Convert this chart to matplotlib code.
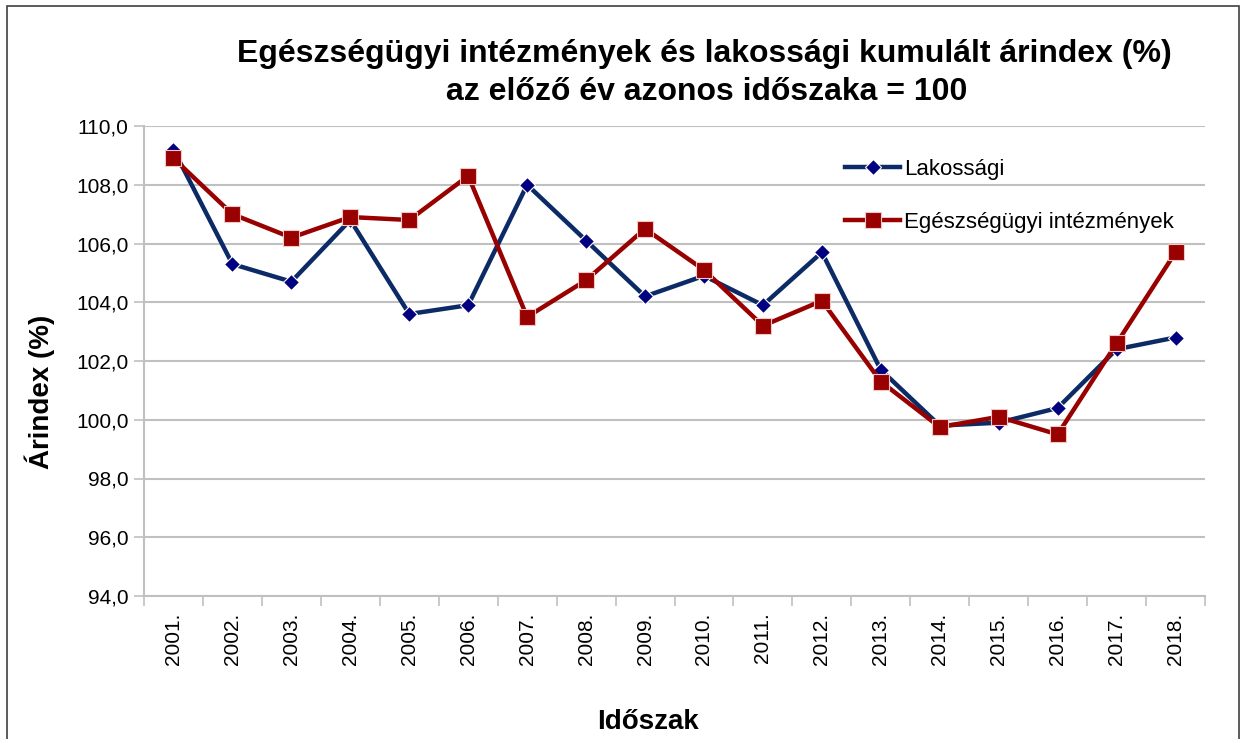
import numpy as np
import matplotlib
matplotlib.use("Agg")
import matplotlib.pyplot as plt
from matplotlib.patches import Rectangle
from matplotlib.ticker import FuncFormatter

plt.rcParams["font.family"] = ["Liberation Sans", "DejaVu Sans"]

# adatok (leolvasva az ábráról)
years = ["2001.", "2002.", "2003.", "2004.", "2005.", "2006.", "2007.", "2008.", "2009.",
         "2010.", "2011.", "2012.", "2013.", "2014.", "2015.", "2016.", "2017.", "2018."]
lakossagi = [109.2, 105.3, 104.7, 106.8, 103.6, 103.9, 108.0, 106.1, 104.2,
             104.9, 103.9, 105.7, 101.7, 99.8, 99.9, 100.4, 102.4, 102.8]
egeszsegugyi = [108.9, 107.0, 106.2, 106.9, 106.8, 108.3, 103.5, 104.75, 106.5,
                105.1, 103.2, 104.05, 101.3, 99.75, 100.1, 99.5, 102.6, 105.7]
yticks = [94, 96, 98, 100, 102, 104, 106, 108, 110]

W, H = 1245, 739
fig = plt.figure(figsize=(W / 100, H / 100), dpi=100)
ax = fig.add_axes([144 / W, 1 - 596 / H, (1205 - 144) / W, (596 - 126) / H])

x = np.arange(len(years))
ax.plot(x, lakossagi, color="#0b2a66", lw=3.2, marker="D", ms=8,
        mfc="#000080", mec="white", mew=0.8, label="Lakossági", zorder=3)
ax.plot(x, egeszsegugyi, color="#990000", lw=3.2, marker="s", ms=11,
        mfc="#990000", mec="#f0c8c8", mew=0.8, label="Egészségügyi intézmények", zorder=4)

ax.set_xlim(-0.5, len(years) - 0.5)
ax.set_ylim(94, 110)
ax.set_yticks(yticks)
ax.yaxis.set_major_formatter(FuncFormatter(lambda v, p: f"{v:.1f}".replace(".", ",")))
ax.set_xticks(x)
ax.set_xticklabels(years, rotation=90, fontsize=15)
ax.set_xticks(np.arange(len(years) + 1) - 0.5, minor=True)
ax.tick_params(axis="x", which="major", length=0, pad=12)
ax.tick_params(axis="x", which="minor", length=7, color="#c0c0c0", width=1.2)
ax.tick_params(axis="y", length=7, color="#c0c0c0", width=1.2, labelsize=15, pad=4)

ax.grid(axis="y", color="#c0c0c0", lw=1.5)
ax.set_axisbelow(True)
for s in ["top", "right"]:
    ax.spines[s].set_visible(False)
for s in ["left", "bottom"]:
    ax.spines[s].set_color("#c0c0c0")
    ax.spines[s].set_linewidth(1.5)

ax.legend(loc="upper left", bbox_to_anchor=((836 - 144) / (1205 - 144), 1 - (150 - 126) / 470),
          frameon=False, fontsize=16, handlelength=2.5, handletextpad=0.15,
          labelspacing=1.45, borderaxespad=0)

fig.text(704 / W, 1 - 54 / H, "Egészségügyi intézmények és lakossági kumulált árindex (%)",
         ha="center", va="center", fontsize=23, fontweight="bold")
fig.text(707 / W, 1 - 92 / H, "az előző év azonos időszaka = 100",
         ha="center", va="center", fontsize=23, fontweight="bold")
fig.text(40 / W, 1 - 392 / H, "Árindex (%)", rotation=90, ha="center", va="center",
         fontsize=20, fontweight="bold")
fig.text(648 / W, 1 - 722 / H, "Időszak", ha="center", va="center",
         fontsize=20, fontweight="bold")

# külső keret
fig.patches.append(Rectangle((7 / W, -0.05), (1239 - 7) / W, 1 - 6 / H + 0.05,
                             transform=fig.transFigure, fill=False,
                             edgecolor="#404040", lw=1.2))

fig.savefig("out.png", dpi=100)
